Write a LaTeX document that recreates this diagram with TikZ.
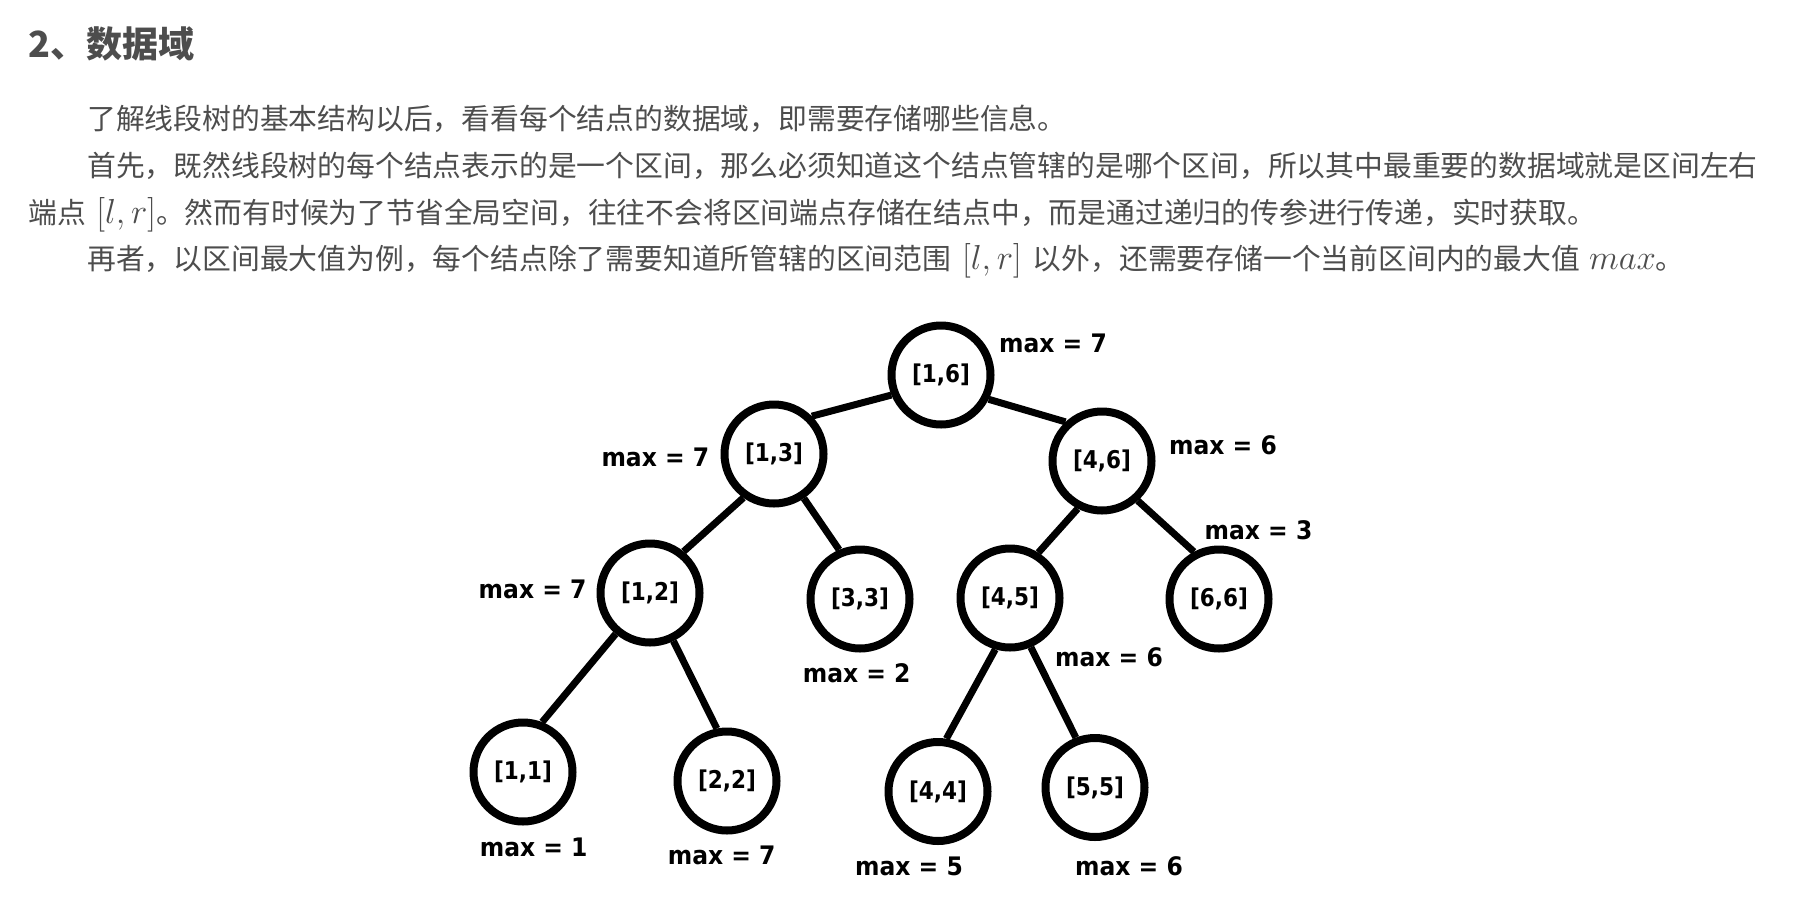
\RequirePackage{fix-cm}
\documentclass[tikz,border=0pt]{standalone}
\usepackage{fontspec}
\newfontfamily\cjk{Noto Sans CJK SC}
\newfontfamily\treefont[FakeStretch=0.92]{DejaVu Sans}
\newfontfamily\nodefont[FakeStretch=0.88]{DejaVu Sans}
\definecolor{bodygray}{HTML}{4D4D4D}
\newcommand{\mth}[1]{{\fontsize{34.7}{40}\selectfont$#1$}}
\begin{document}
\begin{tikzpicture}[x=1pt,y=-1pt,
  bodytext/.style={anchor=base west, inner sep=0pt, text=bodygray, font=\cjk\fontsize{28.8}{34}\selectfont},
  headtext/.style={anchor=base west, inner sep=0pt, text=bodygray, font=\cjk\bfseries\fontsize{36}{40}\selectfont},
  tnode/.style={draw, circle, line width=8pt, minimum size=99pt, inner sep=0pt, font=\nodefont\bfseries\fontsize{24.5}{28}\selectfont},
  maxlab/.style={inner sep=0pt, font=\treefont\bfseries\fontsize{25.5}{29}\selectfont},
  edge/.style={line width=7pt}]
\fill[white] (0,0) rectangle (1796,916);
\path[use as bounding box] (0,0) rectangle (1796,916);

% text
\node[headtext] (h) at (28.6,57) {2、数据域};
\node[bodytext] (l1) at (87,129) {了解线段树的基本结构以后，看看每个结点的数据域，即需要存储哪些信息。};
\node[bodytext] (l2) at (87,176) {首先，既然线段树的每个结点表示的是一个区间，那么必须知道这个结点管辖的是哪个区间，所以其中最重要的数据域就是区间左右};
\node[bodytext] (l3) at (28.6,223) {端点\hspace{10pt}\mth{[l,r]}。然而有时候为了节省全局空间，往往不会将区间端点存储在结点中，而是通过递归的传参进行传递，实时获取。};
\node[bodytext] (l4) at (87,269) {再者，以区间最大值为例，每个结点除了需要知道所管辖的区间范围\hspace{11pt}\mth{[l,r]}\hspace{11pt}以外，还需要存储一个当前区间内的最大值\hspace{9pt}\mth{max}。};

% tree nodes
\node[tnode] (n16) at (941,375) {[1,6]};
\node[tnode] (n13) at (774,454) {[1,3]};
\node[tnode] (n46) at (1102,461) {[4,6]};
\node[tnode] (n12) at (650,593) {[1,2]};
\node[tnode] (n33) at (860,599) {[3,3]};
\node[tnode] (n45) at (1010,598) {[4,5]};
\node[tnode] (n66) at (1219,599) {[6,6]};
\node[tnode] (n11) at (523,772) {[1,1]};
\node[tnode] (n22) at (727,781) {[2,2]};
\node[tnode] (n44) at (938,791.5) {[4,4]};
\node[tnode] (n55) at (1095,787.5) {[5,5]};

% edges
\draw[edge] (n16.202) -- (n13.45);
\draw[edge] (n16.333) -- (n46.133);
\draw[edge] (n13.235) -- (n12.51);
\draw[edge] (n13.304) -- (n33.113);
\draw[edge] (n46.243) -- (n45.58);
\draw[edge] (n46.312) -- (n66.118);
\draw[edge] (n12.230) -- (n11.69);
\draw[edge] (n12.296) -- (n22.101);
\draw[edge] (n45.254) -- (n44.81);
\draw[edge] (n45.293) -- (n55.111);

% max labels
\node[maxlab] (m16) at (1053,343) {max = 7};
\node[maxlab] (m13) at (655.4,457.5) {max = 7};
\node[maxlab] (m46) at (1223,445) {max = 6};
\node[maxlab] (m66) at (1258.5,530) {max = 3};
\node[maxlab] (m12) at (532.6,589) {max = 7};
\node[maxlab] (m33) at (856.7,673) {max = 2};
\node[maxlab] (m45) at (1109,657) {max = 6};
\node[maxlab] (m11) at (533.7,847.6) {max = 1};
\node[maxlab] (m22) at (721.7,855) {max = 7};
\node[maxlab] (m44) at (909,866) {max = 5};
\node[maxlab] (m55) at (1129,866) {max = 6};
\end{tikzpicture}
\end{document}
